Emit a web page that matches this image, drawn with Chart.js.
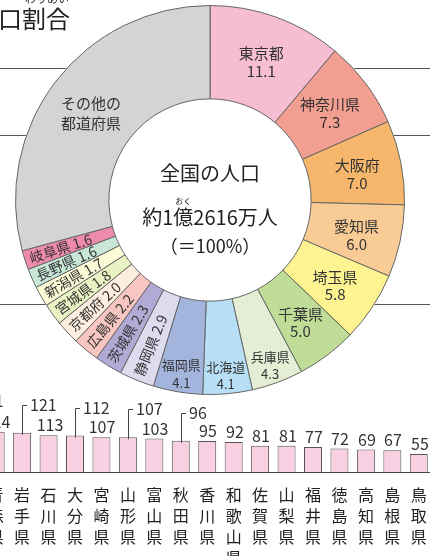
<!DOCTYPE html>
<html><head><meta charset="utf-8">
<script src="https://cdn.jsdelivr.net/npm/chart.js@4.4.0/dist/chart.umd.min.js"></script>
<style>
html,body{margin:0;padding:0;background:#fff;width:430px;height:556px;overflow:hidden;position:relative;font-family:"Noto Sans CJK JP",sans-serif;}
#donutWrap{position:absolute;left:0;top:0;width:430px;height:400px;}
#barWrap{position:absolute;left:-44px;top:380px;width:476px;height:176px;}
#title{position:absolute;left:-2px;top:3px;font-size:24px;line-height:30px;color:#222;white-space:nowrap;}
#ruby{position:absolute;left:25px;top:-9px;font-size:11px;line-height:14px;color:#333;white-space:nowrap;}
</style></head><body>
<div id="barWrap"><canvas id="bar" width="476" height="176"></canvas></div>
<div id="donutWrap"><canvas id="donut" width="430" height="400"></canvas></div>
<div id="ruby">わりあい</div>
<div id="title">口割合</div>
<script>
// ---- donut data ----
const prefNames = ['東京都','神奈川県','大阪府','愛知県','埼玉県','千葉県','兵庫県','北海道','福岡県','静岡県','茨城県','広島県','京都府','宮城県','新潟県','長野県','岐阜県','その他の都道府県'];
const prefShares = [11.1,7.3,7.0,6.0,5.8,5.0,4.3,4.1,4.1,2.9,2.3,2.2,2.0,1.8,1.7,1.6,1.6,29.2];
const prefColors = ['#f7bdd3','#f29e90','#f6b76c','#f9cc95','#fdf491','#c0dd97','#e3eed4','#b7e0f6','#a3b5dc','#dddbee','#b2a9d5','#f8c6c0','#fdeedf','#e9f2c3','#fdfad8','#c8e7d8','#ee8bab','#d4d4d4'];
const centerLines = ['全国の人口','約1億2616万人','（＝100%）'];
// ---- bar data (万人) ----
const barPrefs = ['長崎県','青森県','岩手県','石川県','大分県','宮崎県','山形県','富山県','秋田県','香川県','和歌山県','佐賀県','山梨県','福井県','徳島県','高知県','島根県','鳥取県'];
const barValues = [131,124,121,113,112,107,107,103,96,95,92,81,81,77,72,69,67,55];
const calloutPrefs = ['長崎県','岩手県','大分県','山形県','秋田県'];

const FONT = '"Noto Sans CJK JP", "Noto Sans", sans-serif';

const donutPlugin = {
  id: 'donutDeco',
  beforeDatasetsDraw(chart) {
    const ctx = chart.ctx;
    const a0 = chart.getDatasetMeta(0).data[0];
    ctx.save();
    ctx.strokeStyle = '#555';
    ctx.lineWidth = 1;
    [68, 135, 304].forEach(y => {
      ctx.beginPath(); ctx.moveTo(0, y + 0.5); ctx.lineTo(chart.width, y + 0.5); ctx.stroke();
    });
    ctx.fillStyle = '#fff';
    ctx.beginPath(); ctx.arc(a0.x, a0.y, a0.outerRadius + 0.5, 0, Math.PI * 2); ctx.fill();
    ctx.restore();
  },
  afterDatasetsDraw(chart) {
    const ctx = chart.ctx;
    const meta = chart.getDatasetMeta(0);
    ctx.save();
    ctx.fillStyle = '#333';
    ctx.textAlign = 'center';
    ctx.textBaseline = 'middle';
    const last = prefNames.length - 1;
    meta.data.forEach((el, i) => {
      const p = el.getProps(['x', 'y', 'startAngle', 'endAngle', 'innerRadius', 'outerRadius'], true);
      const a = (p.startAngle + p.endAngle) / 2;
      const span = p.endAngle - p.startAngle;
      const name = prefNames[i];
      const val = prefShares[i].toFixed(1);
      if (i === last) {
        const r = 150;
        const lx = p.x + r * Math.cos(a), ly = p.y + r * Math.sin(a) + 4;
        ctx.font = '15px ' + FONT;
        ctx.fillText(name.slice(0, 4), lx, ly - 10);
        ctx.fillText(name.slice(4), lx, ly + 10);
      } else if (span < 12 * Math.PI / 180) {
        const r = 157;
        const lx = p.x + r * Math.cos(a), ly = p.y + r * Math.sin(a);
        ctx.save();
        ctx.translate(lx, ly);
        ctx.rotate(a + Math.PI);
        ctx.font = '14px ' + FONT;
        ctx.fillText(name + ' ' + val, 0, 0);
        ctx.restore();
      } else {
        const deg = a * 180 / Math.PI;
        const narrow = span < 16 * Math.PI / 180;
        const r = (deg > 60 && deg < 110) ? 173 : 150;
        const lx = p.x + r * Math.cos(a), ly = p.y + r * Math.sin(a) + 3;
        ctx.font = (narrow ? '13px ' : '15px ') + FONT;
        ctx.fillText(name, lx, ly - 8.5);
        ctx.fillText(val, lx, ly + 9);
      }
    });
    // centre text
    const c = meta.data[0];
    const cx = c.x, cy = c.y;
    ctx.fillStyle = '#222';
    ctx.font = '20px ' + FONT;
    ctx.fillText(centerLines[0], cx, cy - 27);
    ctx.fillText(centerLines[1], cx, cy + 17);
    const full = ctx.measureText(centerLines[1]).width;
    const pre = ctx.measureText('約1').width;
    const oku = ctx.measureText('億').width;
    const okuX = cx - full / 2 + pre + oku / 2;
    ctx.font = '18px ' + FONT;
    ctx.fillText(centerLines[2], cx, cy + 46);
    ctx.font = '8px ' + FONT;
    ctx.fillText('おく', okuX, cy + 1);
    ctx.restore();
  }
};

new Chart(document.getElementById('donut'), {
  type: 'doughnut',
  data: {
    labels: prefNames,
    datasets: [{ data: prefShares, backgroundColor: prefColors, borderColor: '#666', borderWidth: 1 }]
  },
  options: {
    responsive: false, animation: false, cutout: '52%',
    layout: { padding: { left: 5, right: 15, top: 5, bottom: 5 } },
    plugins: { legend: { display: false }, tooltip: { enabled: false } }
  },
  plugins: [donutPlugin]
});

const barLabelPlugin = {
  id: 'barLabels',
  afterDatasetsDraw(chart) {
    const ctx = chart.ctx;
    const meta = chart.getDatasetMeta(0);
    ctx.save();
    ctx.font = '16px ' + FONT;
    ctx.fillStyle = '#333';
    ctx.strokeStyle = '#444';
    ctx.lineWidth = 1;
    ctx.textBaseline = 'middle';
    meta.data.forEach((bar, i) => {
      const v = String(barValues[i]);
      const x = Math.round(bar.x), top = bar.y;
      if (calloutPrefs.includes(barPrefs[i])) {
        const ly = Math.round(top - 28);
        ctx.beginPath();
        ctx.moveTo(x + 0.5, top + 2);
        ctx.lineTo(x + 0.5, ly + 0.5);
        ctx.lineTo(x + 5, ly + 0.5);
        ctx.stroke();
        ctx.textAlign = 'left';
        ctx.fillText(v, x + 8, ly);
      } else {
        ctx.textAlign = 'center';
        ctx.fillText(v, x + 1, top - 10);
      }
    });
    ctx.restore();
  }
};

new Chart(document.getElementById('bar'), {
  type: 'bar',
  data: {
    labels: barPrefs.map(s => s.split('')),
    datasets: [{ data: barValues, backgroundColor: '#f9d0e1', borderColor: '#555', borderWidth: 1, barPercentage: 0.68, categoryPercentage: 1 }]
  },
  options: {
    responsive: false, animation: false,
    layout: { padding: 0 },
    plugins: { legend: { display: false }, tooltip: { enabled: false } },
    scales: {
      x: {
        grid: { display: false },
        border: { display: true, color: '#444', width: 1 },
        ticks: { autoSkip: false, maxRotation: 0, minRotation: 0, padding: 4, color: '#222',
                 font: { family: FONT, size: 16, lineHeight: '21px' } },
        afterFit(s) { s.height = 84; }
      },
      y: { display: false, min: 0, max: 283 }
    }
  },
  plugins: [barLabelPlugin]
});
</script>
</body></html>
